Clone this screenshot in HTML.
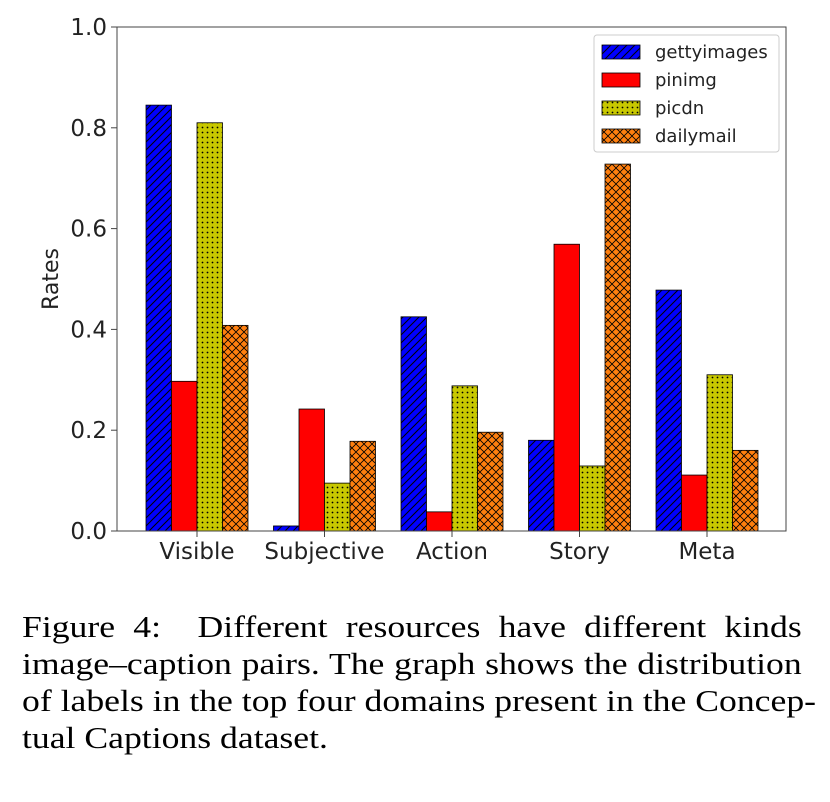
<!DOCTYPE html>
<html><head><meta charset="utf-8">
<style>
body{margin:0;background:#fff;width:830px;height:802px;overflow:hidden}
#cap{position:absolute;left:22px;top:608px;width:678px;font-family:"Liberation Serif",serif;font-size:31px;line-height:37px;color:#000;transform:scaleX(1.15);transform-origin:0 0}
.l{display:block;text-align:justify;text-align-last:justify;height:37px;white-space:nowrap}
.last{text-align-last:left}
</style></head><body>
<svg id="chart" width="830" height="600" style="position:absolute;left:0;top:0" font-family="'DejaVu Sans',sans-serif">
<defs>
<pattern id="hatch-diag" width="8" height="8" patternUnits="userSpaceOnUse"><rect width="8" height="8" fill="#0000ff"/><path d="M-2,10 L10,-2 M-2,2 L2,-2 M6,10 L10,6" stroke="#000" stroke-width="1"/></pattern>
<pattern id="hatch-dot" width="5" height="5" patternUnits="userSpaceOnUse"><rect width="5" height="5" fill="#c8c800"/><circle cx="2.5" cy="2.5" r="0.9" fill="#000"/></pattern>
<pattern id="hatch-x" width="8" height="8" patternUnits="userSpaceOnUse"><rect width="8" height="8" fill="#ff7f0e"/><path d="M0,0 L8,8 M8,0 L0,8" stroke="#000" stroke-width="0.8"/></pattern>
<pattern id="solid-red" width="8" height="8" patternUnits="userSpaceOnUse"><rect width="8" height="8" fill="#ff0000"/></pattern>
</defs>
<g id="plot"></g>
</svg>
<div id="cap">
<span class="l">Figure 4:&nbsp; Different resources have different kinds</span>
<span class="l">image–caption pairs. The graph shows the distribution</span>
<span class="l">of labels in the top four domains present in the Concep-</span>
<span class="l last">tual Captions dataset.</span>
</div>
<script>
const categories=["Visible","Subjective","Action","Story","Meta"];
const seriesNames=["gettyimages","pinimg","picdn","dailymail"];
const gettyimages=[0.845,0.010,0.425,0.180,0.478];
const pinimg=[0.297,0.242,0.038,0.569,0.111];
const picdn=[0.810,0.095,0.288,0.129,0.310];
const dailymail=[0.408,0.178,0.196,0.728,0.160];
const yTicks=[0.0,0.2,0.4,0.6,0.8,1.0];
const series=[gettyimages,pinimg,picdn,dailymail];
const fills=["url(#hatch-diag)","url(#solid-red)","url(#hatch-dot)","url(#hatch-x)"];
const L=117,R=786,T=27,B=531;
const y=v=>B-(B-T)*v;
const groupW=127.5, x0=197, barW=25.5;
const x=i=>x0+i*groupW;
const NS="http://www.w3.org/2000/svg";
const g=document.getElementById('plot');
function mk(t,a,p){const e=document.createElementNS(NS,t);for(const k in a)e.setAttribute(k,a[k]);(p||g).appendChild(e);return e;}
series.forEach((s,si)=>{s.forEach((v,ci)=>{
 const bx=x(ci)-2*barW+si*barW;
 const r=mk('rect',{x:bx,y:y(v),width:barW,height:y(0)-y(v),fill:fills[si],stroke:'#000','stroke-width':0.8});
 
 
});});
const frame=mk('rect',{x:L,y:T,width:R-L,height:B-T,fill:'none',stroke:'#444','stroke-width':1});


yTicks.forEach(v=>{
 mk('line',{x1:L-6,x2:L,y1:y(v),y2:y(v),stroke:'#444'});
 const t=mk('text',{x:L-10,y:y(v)+8,'text-anchor':'end','font-size':23,fill:'#222'});
 t.textContent=v.toFixed(1);
 
 
});
categories.forEach((c,i)=>{
 mk('line',{x1:x(i),x2:x(i),y1:B,y2:B+6,stroke:'#444'});
 const t=mk('text',{x:x(i),y:B+28,'text-anchor':'middle','font-size':23,fill:'#222'});
 t.textContent=c;
 
 
});
const yl=mk('text',{x:58,y:(T+B)/2,'text-anchor':'middle','font-size':22,fill:'#222',transform:'rotate(-90 58 '+(T+B)/2+')'});
yl.textContent='Rates';


const lg=mk('g',{});


mk('rect',{x:594,y:35,width:185,height:117,rx:3,fill:'#fff',stroke:'#ccc'},lg);
seriesNames.forEach((n,i)=>{
 const yy=45+i*28;
 const sw=mk('rect',{x:602,y:yy,width:38,height:14,fill:fills[i],stroke:'#000','stroke-width':0.8},lg);
 
 
 const t=mk('text',{x:655,y:yy+13,'font-size':18,fill:'#222'},lg);
 t.textContent=n;
 
 
});
</script>
</body></html>
